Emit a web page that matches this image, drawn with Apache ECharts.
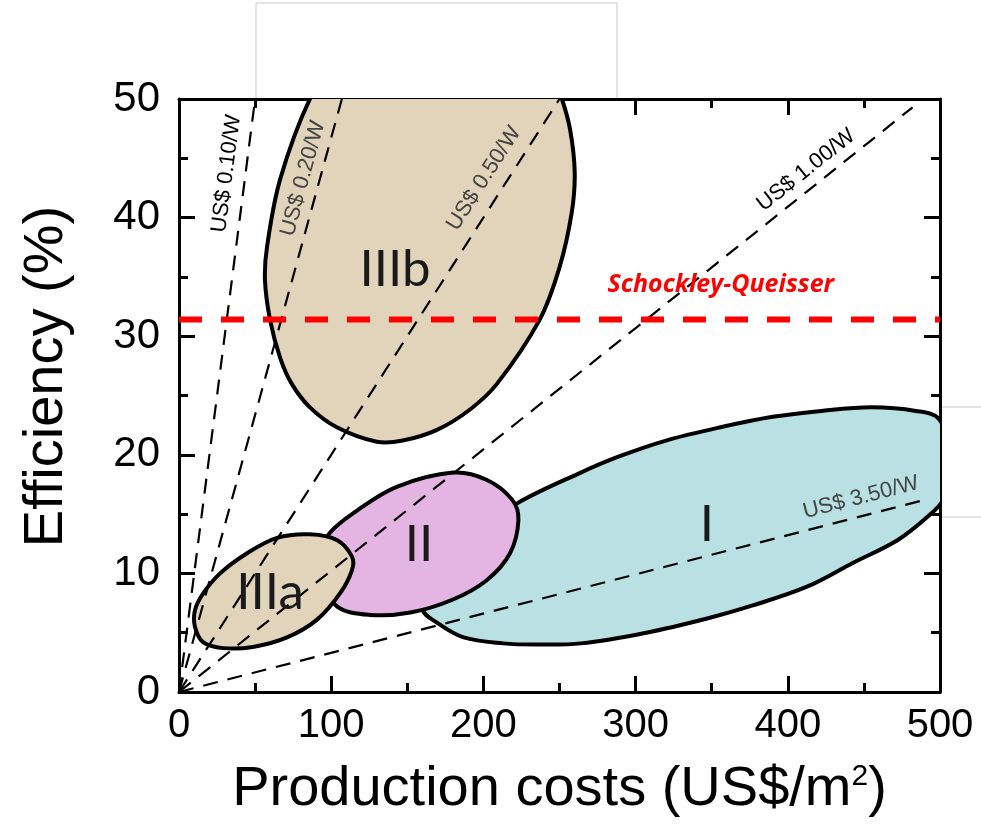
<!DOCTYPE html>
<html>
<head>
<meta charset="utf-8">
<script src="https://cdn.jsdelivr.net/npm/echarts@6/dist/echarts.min.js"></script>
<style>
  html, body { margin: 0; padding: 0; background: #fff; }
  #chart { width: 981px; height: 824px; }
</style>
</head>
<body>
<div id="chart"></div>
<script>
// axis ticks
const xTicks = [0, 100, 200, 300, 400, 500];
const yTicks = [0, 10, 20, 30, 40, 50];

// price per watt lines, from the origin to these end points
const priceLabels = ['US$ 0.10/W', 'US$ 0.20/W', 'US$ 0.50/W', 'US$ 1.00/W', 'US$ 3.50/W'];
const priceLineEnds = [[50, 50], [107, 50], [250, 50], [482, 49.3], [487, 16.1]];
const priceLabelPos = [[31.2, 43.7], [81.5, 43.3], [200.4, 43.3], [412, 44.0], [448, 16.4]];

// Shockley-Queisser limit
const sqLimit = 31.4;
const sqLabel = 'Schockley-Queisser';
const sqLabelPos = [356, 34.3];

// region outlines (cost, efficiency)
const regionI = [[160, 7], [170, 5.8], [187, 4.6], [213, 4.1], [235, 4.0], [264, 4.1], [307, 5.0],
  [347, 6.2], [377, 7.3], [413, 8.9], [443, 10.9], [472, 12.8], [492, 14.8], [502, 16.2], [508, 19.5],
  [499.5, 23.0], [484, 23.7], [455, 24.0], [422, 23.7], [390, 23.2], [355, 22.3], [320, 21.2],
  [290, 19.9], [264, 18.5], [222, 15.9], [190, 13], [168, 9.5]];
const regionII = [[99, 13.4], [117, 15.3], [143, 17.3], [180, 18.5], [202, 17.9], [219, 16.2],
  [223, 14.5], [217.5, 11.7], [202, 9.4], [180, 7.8], [152, 6.7], [125.5, 6.5], [104, 7.2],
  [95, 9.5], [94, 11.7]];
const regionIIIa = [[10.5, 6.9], [15.8, 8.3], [27, 10.0], [44.7, 11.7], [64.4, 13.0], [86, 13.3],
  [104, 12.8], [113.7, 11.4], [113.7, 10.3], [106, 8.35], [90.7, 6.1], [71, 4.6], [48.6, 3.8],
  [29, 3.7], [15.8, 4.2], [10.5, 5.5]];
const regionIIIb = [[110, 55], [86, 50], [66.4, 43.2], [57.8, 37.5], [56.5, 34.7], [59.8, 31.4],
  [66.4, 28.2], [74, 26.0], [86, 24.0], [104, 22.3], [130, 21.1], [147, 21.2], [169.5, 22.1],
  [191, 23.8], [209, 26], [237, 31.4], [250, 35.8], [258, 40.4], [260, 43.8], [257, 47.4],
  [251.6, 50], [240, 54], [200, 57], [150, 57]];

const regionNames = ['I', 'II', 'IIIa', 'IIIb'];
const regionLabelPos = [[346.9, 14.1], [157.7, 12.4], [59.8, 8.4], [141.9, 35.6]];

const FONT = "'Liberation Sans', Arial, sans-serif";
const priceLabelColors = ['#000', '#444', '#444', '#000', '#444'];

const chart = echarts.init(document.getElementById('chart'), null, { renderer: 'canvas' });

function clipRect(params) {
  const cs = params.coordSys;
  return { type: 'rect', shape: { x: cs.x, y: cs.y, width: cs.width, height: cs.height } };
}

function regionSeries(outline, fill) {
  return {
    type: 'custom',
    coordinateSystem: 'cartesian2d',
    data: outline,
    z: 2,
    silent: true,
    renderItem: (params, api) => {
      if (params.dataIndex !== 0) return null;
      const pts = outline.map(p => api.coord(p));
      return {
        type: 'polygon',
        shape: { points: pts, smooth: 0.35 },
        style: { fill: fill, stroke: '#000', lineWidth: 4 },
        clipPath: clipRect(params),
      };
    },
  };
}

const axisCommon = {
  type: 'value',
  axisLine: { show: true, onZero: false, lineStyle: { color: '#000', width: 3 } },
  axisTick: { show: true, inside: true, length: 16, lineStyle: { color: '#000', width: 3 } },
  minorTick: { show: true, splitNumber: 2, length: 9, lineStyle: { color: '#000', width: 3 } },
  splitLine: { show: false },
};

const xRange = { min: xTicks[0], max: xTicks[xTicks.length - 1], interval: xTicks[1] - xTicks[0] };
const yRange = { min: yTicks[0], max: yTicks[yTicks.length - 1], interval: yTicks[1] - yTicks[0] };

chart.setOption({
  animation: false,
  backgroundColor: '#fff',
  grid: { left: 179, right: 41, top: 99, bottom: 132, containLabel: false, outerBoundsMode: 'none' },
  xAxis: [
    {
      ...axisCommon, ...xRange, position: 'bottom',
      axisLabel: { fontSize: 40, margin: 14, color: '#000', fontFamily: FONT },
      name: 'Production costs (US$/m{sup|2})',
      nameLocation: 'middle',
      nameGap: 70,
      nameTextStyle: {
        fontSize: 56, color: '#000', fontFamily: FONT,
        rich: { sup: { fontSize: 30, verticalAlign: 'top', lineHeight: 24, fontFamily: FONT, color: '#000' } },
      },
    },
    { ...axisCommon, ...xRange, position: 'top', axisLabel: { show: false } },
  ],
  yAxis: [
    {
      ...axisCommon, ...yRange, position: 'left',
      axisLabel: { fontSize: 42, margin: 19, color: '#000', fontFamily: FONT },
      name: 'Efficiency (%)',
      nameLocation: 'middle',
      nameGap: 104,
      nameTextStyle: { fontSize: 56, color: '#000', fontFamily: FONT, padding: [0, 0, 0, 38] },
    },
    { ...axisCommon, ...yRange, position: 'right', axisLabel: { show: false } },
  ],
  graphic: [
    { type: 'rect', shape: { x: 256, y: 3, width: 361, height: 96 }, style: { fill: null, stroke: '#c8c8c8', lineWidth: 1 }, z: -10 },
    { type: 'line', shape: { x1: 942, y1: 407, x2: 981, y2: 407 }, style: { stroke: '#c8c8c8', lineWidth: 1 }, z: -10 },
    { type: 'line', shape: { x1: 942, y1: 517, x2: 981, y2: 517 }, style: { stroke: '#c8c8c8', lineWidth: 1 }, z: -10 },
  ],
  series: [
    regionSeries(regionI, '#b9e0e3'),
    regionSeries(regionII, '#e4b4e2'),
    regionSeries(regionIIIa, '#e2d4ba'),
    regionSeries(regionIIIb, '#e2d4ba'),
    ...priceLineEnds.map((end, i) => ({
      type: 'line',
      name: priceLabels[i],
      data: [[0, 0], end],
      symbol: 'none',
      silent: true,
      z: 3,
      lineStyle: { color: '#000', width: 2.2, type: [15, 10] },
    })),
    {
      type: 'line',
      name: sqLabel,
      data: [[xTicks[0], sqLimit], [xTicks[xTicks.length - 1], sqLimit]],
      symbol: 'none',
      silent: true,
      z: 4,
      lineStyle: { color: '#ff0000', width: 6, type: [23, 19] },
    },
    {
      type: 'custom',
      coordinateSystem: 'cartesian2d',
      data: priceLabelPos,
      z: 5,
      silent: true,
      renderItem: (params, api) => {
        const i = params.dataIndex;
        const p = api.coord([api.value(0), api.value(1)]);
        const a = api.coord([0, 0]);
        const b = api.coord(priceLineEnds[i]);
        const rot = Math.atan2(a[1] - b[1], b[0] - a[0]);
        return {
          type: 'text', x: p[0], y: p[1], rotation: rot,
          style: { text: priceLabels[i], fontSize: 22, fontFamily: FONT, fill: priceLabelColors[i], align: 'center', verticalAlign: 'middle' },
        };
      },
    },
    {
      type: 'custom',
      coordinateSystem: 'cartesian2d',
      data: [sqLabelPos],
      z: 5,
      silent: true,
      renderItem: (params, api) => {
        const p = api.coord([api.value(0), api.value(1)]);
        return {
          type: 'text', x: p[0], y: p[1],
          style: { text: sqLabel, fontSize: 25, fontWeight: 'bold', fontStyle: 'italic', fontFamily: "'Open Sans', sans-serif", fill: '#ff0000', align: 'center', verticalAlign: 'middle' },
        };
      },
    },
    {
      type: 'custom',
      coordinateSystem: 'cartesian2d',
      data: regionLabelPos,
      z: 6,
      silent: true,
      renderItem: (params, api) => {
        const p = api.coord([api.value(0), api.value(1)]);
        return {
          type: 'text', x: p[0], y: p[1],
          style: { text: regionNames[params.dataIndex], fontSize: 51, fontFamily: "Lato, sans-serif", fill: '#1a1a1a', align: 'center', verticalAlign: 'middle' },
        };
      },
    },
  ],
});
</script>
</body>
</html>
